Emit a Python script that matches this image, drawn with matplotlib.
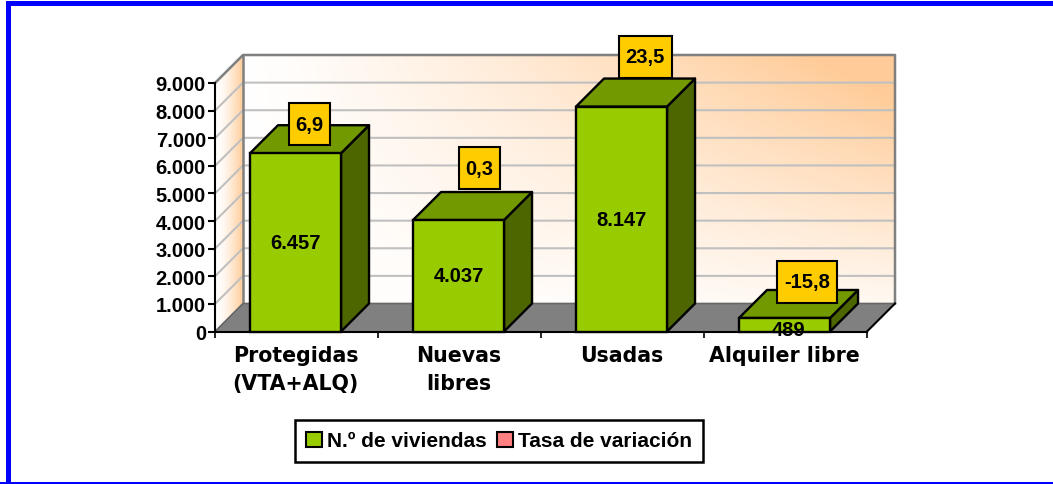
import numpy as np
import matplotlib
matplotlib.use("Agg")
import matplotlib.pyplot as plt
from matplotlib.patches import Polygon, Rectangle
from matplotlib.transforms import IdentityTransform

plt.rcParams['font.family'] = ['Liberation Sans', 'DejaVu Sans']
plt.rcParams['font.weight'] = 'bold'

# data
categories = ["Protegidas\n(VTA+ALQ)", "Nuevas\nlibres", "Usadas", "Alquiler libre"]
viviendas = [6457, 4037, 8147, 489]
viviendas_txt = ["6.457", "4.037", "8.147", "489"]
tasa_txt = ["6,9", "0,3", "23,5", "-15,8"]
y_ticks = [0, 1000, 2000, 3000, 4000, 5000, 6000, 7000, 8000, 9000]
y_labels = ["0", "1.000", "2.000", "3.000", "4.000", "5.000", "6.000", "7.000", "8.000", "9.000"]

W, H = 1053, 485
fig = plt.figure(figsize=(W/100, H/100), dpi=100)

# blue frame
for r in [(6, 478, 1047, 5), (6, 0, 5, 483), (0, 0, 1053, 2)]:
    fig.add_artist(Rectangle((r[0]/W, r[1]/H), r[2]/W, r[3]/H, transform=fig.transFigure,
                             fc='#0000FF', ec='none'))

# front plane of the 3d box
left, right, base, top = 215, 867, 332.5, 84
ax = fig.add_axes([left/W, (H-base)/H, (right-left)/W, (base-top)/H])
ax.patch.set_visible(False)

# depth of the 3d effect in data units
dx = 28 / ((right-left)/4)
dy = 28 / ((base-top)/9000)
x_max, y_max = 4 + dx, 9000 + dy

# back wall gradient
xx, yy = np.meshgrid(np.linspace(0, 1, 200), np.linspace(0, 1, 100))
t = np.clip(xx**1.2 * (0.12 + 1.0*yy) * 1.05, 0, 1)
white = np.array([1, 1, 1])
orange = np.array([1, 0.8, 0.6])
img = white + (orange-white)*t[..., None]
ax.imshow(img, extent=[dx, x_max, dy, y_max], origin='lower', aspect='auto', zorder=0, clip_on=False)

# left wall gradient
tl = np.linspace(0, 1, 40)[None, :]**1.6
img2 = white + (orange-white)*tl[..., None]
im2 = ax.imshow(img2, extent=[0, dx, 0, y_max], origin='lower', aspect='auto', zorder=0)
im2.set_clip_path(Polygon([(0, 0), (dx, dy), (dx, y_max), (0, 9000)], transform=ax.transData))
im2.set_clip_box(fig.bbox)
ax.set_xlim(0, 4)
ax.set_ylim(0, 9000)

# floor
ax.add_patch(Polygon([(0, 0), (4, 0), (x_max, dy), (dx, dy)], fc='#808080', ec='none', zorder=1, clip_on=False))

# gridlines
for v in y_ticks[1:]:
    ax.plot([0, dx, x_max], [v, v+dy, v+dy], color='#C0C0C0', lw=1.5, zorder=1, clip_on=False,
            solid_joinstyle='round')

# wall outline
ax.plot([0, dx, x_max, x_max], [9000, y_max, y_max, dy], color='#808080', lw=1.8, zorder=1.5, clip_on=False)
ax.plot([dx, dx], [dy, y_max], color='#808080', lw=1.8, zorder=1.5, clip_on=False)
ax.plot([0, dx, x_max], [0, dy, dy], color='#666666', lw=1.2, zorder=1.5, clip_on=False)
ax.plot([4, x_max], [0, dy], color='black', lw=1.5, zorder=1.5, clip_on=False)

# bars
bar_w = 91 / 163
bar_lw = 1.7
label_dx = [0, 0, 0, 4.5]
label_y = [v/2 for v in viviendas[:3]] + [80]
box_off = [(14, 29), (21, 52), (23.5, 50), (22.5, 36)]
box_w = [41, 41, 53, 60]
box_h = 42
for i, v in enumerate(viviendas):
    x0 = i + 0.5 - bar_w/2 - 0.006
    x1 = x0 + bar_w
    ax.add_patch(Polygon([(x1, 0), (x1+dx, dy), (x1+dx, v+dy), (x1, v)], fc='#4D6600', ec='black',
                         lw=bar_lw, zorder=3+i, clip_on=False, joinstyle='round'))
    ax.add_patch(Polygon([(x0, v), (x1, v), (x1+dx, v+dy), (x0+dx, v+dy)], fc='#739900', ec='black',
                         lw=bar_lw, zorder=3+i, clip_on=False, joinstyle='round'))
    ax.bar(x0, v, width=bar_w, align='edge', color='#99CC00', edgecolor='black', lw=bar_lw, zorder=3+i, clip_on=False)
    px, py = ax.transData.transform((x0+bar_w/2, label_y[i]))
    ax.text(px+label_dx[i], py, viviendas_txt[i], ha='center', va='center', fontsize=14.5,
            transform=IdentityTransform(), zorder=8, color='black', clip_on=False)

    # variation labels
    px, py = ax.transData.transform((x0+bar_w/2, v))
    cx, cy = px+box_off[i][0], py+box_off[i][1]
    ax.add_patch(Rectangle((cx-box_w[i]/2, cy-box_h/2), box_w[i], box_h, transform=IdentityTransform(),
                           fc='#FFCC00', ec='black', lw=1.5, zorder=9, clip_on=False))
    ax.text(cx, cy, tasa_txt[i], ha='center', va='center', fontsize=14.5, transform=IdentityTransform(),
            zorder=10, clip_on=False)

# axes
for s in ['top', 'right']:
    ax.spines[s].set_visible(False)
ax.spines['left'].set_linewidth(1.5)
ax.spines['bottom'].set_linewidth(1.5)
ax.spines['left'].set_zorder(2)
ax.spines['bottom'].set_zorder(2)
ax.set_yticks(y_ticks)
ax.set_yticklabels(y_labels, fontsize=14.5)
ax.set_xticks([0, 1, 2, 3, 4])
ax.set_xticklabels([])
ax.tick_params(axis='y', length=5, width=1.5, pad=1.5)
ax.tick_params(axis='x', length=4, width=1.2)
for i, c in enumerate(categories):
    ax.text(i + 0.5 - 0.006, -500, c, ha='center', va='top', fontsize=14.8, linespacing=1.45,
            family=['DejaVu Sans'], clip_on=False)

# legend
leg = ax.legend(handles=[Rectangle((0, 0), 1, 1, fc='#99CC00', ec='black', lw=1.5, label='N.º de viviendas'),
                         Rectangle((0, 0), 1, 1, fc='#FF8080', ec='black', lw=1.5, label='Tasa de variación')],
                loc='center', bbox_to_anchor=(499/W, (H-442)/H), bbox_transform=fig.transFigure, ncol=2,
                fontsize=15, frameon=True, fancybox=False, edgecolor='black', framealpha=1,
                handlelength=0.75, handleheight=0.7, handletextpad=0.25, columnspacing=0.5, borderpad=0.55,
                borderaxespad=0)
leg.get_frame().set_linewidth(1.8)

fig.savefig("out.png", dpi=100)
